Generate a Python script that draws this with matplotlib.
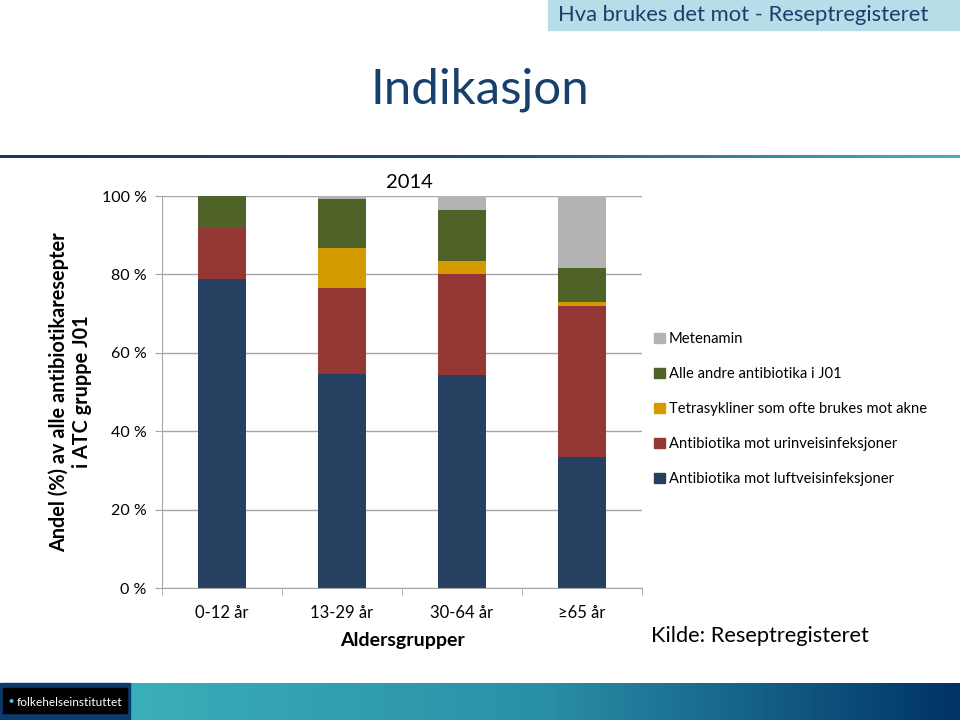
import numpy as np
import matplotlib
matplotlib.use("Agg")
import matplotlib.pyplot as plt
from matplotlib.patches import Patch, Rectangle
from matplotlib.colors import LinearSegmentedColormap

plt.rcParams['font.family'] = ['Lato', 'DejaVu Sans']

groups = ["0-12 år", "13-29 år", "30-64 år", "≥65 år"]
luftvei = [78.7, 54.6, 54.3, 33.5]
urinvei = [13.1, 21.9, 25.8, 38.4]
tetra = [0.0, 10.2, 3.2, 1.0]
andre = [8.2, 12.5, 13.1, 8.8]
metenamin = [0.0, 0.8, 3.6, 18.3]

series = [
    ("Antibiotika mot luftveisinfeksjoner", luftvei, "#254061"),
    ("Antibiotika mot urinveisinfeksjoner", urinvei, "#953735"),
    ("Tetrasykliner som ofte brukes mot akne", tetra, "#D39B00"),
    ("Alle andre antibiotika i J01", andre, "#4F6228"),
    ("Metenamin", metenamin, "#B3B3B3"),
]

fig = plt.figure(figsize=(9.6, 7.2), dpi=100)
W, H = 960, 720

# header box
fig.patches.append(Rectangle((548 / W, 1 - 30 / H), 412 / W, 30 / H,
                             transform=fig.transFigure, color="#B7DDE8", zorder=0))
fig.text(558 / W, 1 - 15 / H, "Hva brukes det mot - Reseptregisteret",
         fontsize=15.8, color="#17406D", va="center", ha="left")

fig.text(480 / W, 1 - 90 / H, "Indikasjon", fontsize=35.5, color="#17406D",
         ha="center", va="center")

# gradient rule under title
line_cmap = LinearSegmentedColormap.from_list("line", ["#17375E", "#1F4E79", "#4BACC6"])
lax = fig.add_axes([0, 1 - 158 / H, 1, 3 / H])
lax.imshow(np.linspace(0, 1, 256).reshape(1, -1), aspect="auto", cmap=line_cmap)
lax.axis("off")

# bottom band
band_cmap = LinearSegmentedColormap.from_list("band", ["#3AAFB9", "#2A8FA8", "#003366"])
bax = fig.add_axes([130 / W, 0, 830 / W, 37 / H])
bax.imshow(np.linspace(0, 1, 256).reshape(1, -1), aspect="auto", cmap=band_cmap)
bax.axis("off")
fig.patches.append(Rectangle((0, 0), 130 / W, 37 / H, transform=fig.transFigure,
                             color="#0B3A6E", zorder=1))
fig.patches.append(Rectangle((3 / W, 7 / H), 124 / W, 25 / H, transform=fig.transFigure,
                             color="black", zorder=2))
fig.text(17 / W, 1 - 702 / H, "folkehelseinstituttet", fontsize=8.6, color="white",
         va="center", ha="left", zorder=3)
fig.text(11 / W, 1 - 700 / H, "●", fontsize=6, color="#49C6E5", va="center",
         ha="center", zorder=3)

# chart
ax = fig.add_axes([162 / W, 1 - 588 / H, 480 / W, 392 / H])
x = np.arange(len(groups))
bottom = np.zeros(len(groups))
for name, vals, col in series:
    ax.bar(x, vals, 0.4, bottom=bottom, color=col, label=name, zorder=2)
    bottom += np.array(vals)

ax.set_xlim(-0.5, 3.5)
ax.set_ylim(0, 100)
ax.set_yticks([0, 20, 40, 60, 80, 100])
ax.set_yticklabels(["0 %", "20 %", "40 %", "60 %", "80 %", "100 %"], fontsize=11.5)
ax.yaxis.grid(True, color="#A6A6A6", linewidth=1, zorder=0)
ax.set_xticks(x)
ax.set_xticklabels(groups, fontsize=12)
ax.set_xticks([-0.5, 0.5, 1.5, 2.5, 3.5], minor=True)
ax.tick_params(axis="x", which="major", length=0, pad=12)
ax.tick_params(axis="x", which="minor", length=5, color="#A6A6A6")
ax.tick_params(axis="y", length=5, color="#A6A6A6", pad=6)
for s in ["top", "right"]:
    ax.spines[s].set_visible(False)
for s in ["left", "bottom"]:
    ax.spines[s].set_color("#A6A6A6")
ax.set_xlabel("Aldersgrupper", fontsize=14, fontweight="bold", labelpad=8)
ax.set_title("2014", fontsize=14.5, pad=6, x=0.515)

fig.text(70 / W, 1 - 392 / H, "Andel (%) av alle antibiotikaresepter\ni ATC gruppe J01",
         rotation=90, fontsize=14.3, fontweight="bold", ha="center", va="center",
         linespacing=1.2)

handles = [Patch(color=col, label=name) for name, vals, col in series][::-1]
fig.legend(handles=handles, loc="upper left", bbox_to_anchor=(641 / W, 1 - 319 / H),
           frameon=False, fontsize=10.6, handlelength=0.7, handleheight=0.7,
           handletextpad=0.3, labelspacing=1.42)

fig.text(651 / W, 1 - 636 / H, "Kilde: Reseptregisteret", fontsize=15.7,
         ha="left", va="center")

fig.savefig("out.png", dpi=100)
